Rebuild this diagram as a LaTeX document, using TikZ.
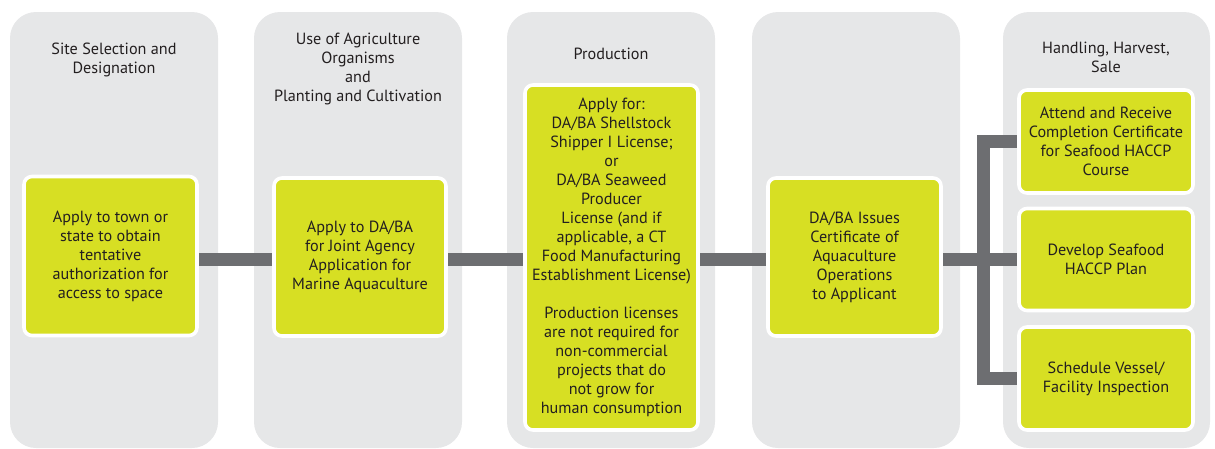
\documentclass[tikz,border=0pt]{standalone}
\usepackage{fontspec}
\setmainfont{PT Sans}
\definecolor{colgray}{HTML}{E6E7E8}
\definecolor{boxgreen}{HTML}{D7DF23}
\definecolor{bargray}{HTML}{6D6E71}
\definecolor{txt}{HTML}{231F20}
\pgfdeclarelayer{back}
\pgfdeclarelayer{mid}
\pgfsetlayers{back,mid,main}
\begin{document}
\begin{tikzpicture}[x=1pt,y=-1pt,
  column/.style={fill=colgray,rounded corners=26pt},
  head/.style={text=txt,align=center,font=\fontsize{16.2}{19}\selectfont,inner sep=0pt},
  gbox/.style={fill=boxgreen,draw=white,line width=3.6pt,rounded corners=8pt,inner sep=0pt},
  btext/.style={text=txt,align=center,font=\fontsize{16.2}{19}\selectfont,inner sep=0pt},
  bar/.style={draw=bargray,line width=13pt,line join=miter},
]
\useasboundingbox (0,0) rectangle (1215,448);
% columns
\begin{pgfonlayer}{back}
\fill[column] (10,12) rectangle (218,448);
\fill[column] (254,12) rectangle (462,448);
\fill[column] (507,12) rectangle (715,448);
\fill[column] (752,12) rectangle (960,448);
\fill[column] (1003,12) rectangle (1210,448);
\end{pgfonlayer}
% headers
\node[head] (h1) at (114,59.5) {Site Selection and\\Designation};
\node[head] (h2) at (358,68.5) {Use of Agriculture\\Organisms\\and\\Planting and Cultivation};
\node[head] (h3) at (611,54) {Production};
\node[head] (h5) at (1106,57.5) {Handling, Harvest,\\Sale};
% green boxes
\node[gbox,minimum width=173pt,minimum height=159pt] (b1) at (110.5,256) {};
\node[gbox,minimum width=172pt,minimum height=158pt] (b2) at (360,257) {};
\node[gbox,minimum width=173pt,minimum height=345pt] (b3) at (611.5,257.5) {};
\node[gbox,minimum width=173pt,minimum height=158pt] (b4) at (854.5,257) {};
\node[gbox,minimum width=174pt,minimum height=103pt] (b5a) at (1106,141.5) {};
\node[gbox,minimum width=174pt,minimum height=102pt] (b5b) at (1106,259.5) {};
\node[gbox,minimum width=174pt,minimum height=103pt] (b5c) at (1106,378.5) {};
\coordinate (jx) at (983.5,0);
% connectors
\begin{pgfonlayer}{mid}
\draw[bar] (b1.east |- b5b.west) -- (b2.west |- b5b.west);
\draw[bar] (b2.east |- b5b.west) -- (b3.west |- b5b.west);
\draw[bar] (b3.east |- b5b.west) -- (b4.west |- b5b.west);
\draw[bar] (b4.east |- b5b.west) -- (b5b.west);
\draw[bar] (b5a.west) -- (jx |- b5a.west) -- (jx |- b5c.west) -- (b5c.west);
\end{pgfonlayer}
% texts
\node[btext] (t1) at (b1) {Apply to town or\\state to obtain\\tentative\\authorization for\\access to space};
\node[btext] (t2) at (b2) {Apply to DA/BA\\for Joint Agency\\Application for\\Marine Aquaculture};
\node[btext] (t3) at (b3) {Apply for:\\DA/BA Shellstock\\Shipper I License;\\or\\DA/BA Seaweed\\Producer\\License (and if\\applicable, a CT\\Food Manufacturing\\Establishment License)\\[19pt]Production licenses\\are not required for\\non-commercial\\projects that do\\not grow for\\human consumption};
\node[btext] (t4) at (b4) {DA/BA Issues\\Certificate of\\Aquaculture\\Operations\\to Applicant};
\node[btext] (t5a) at (b5a) {Attend and Receive\\Completion Certificate\\for Seafood HACCP\\Course};
\node[btext] (t5b) at (b5b) {Develop Seafood\\HACCP Plan};
\node[btext] (t5c) at (b5c) {Schedule Vessel/\\Facility Inspection};
\end{tikzpicture}
\end{document}
